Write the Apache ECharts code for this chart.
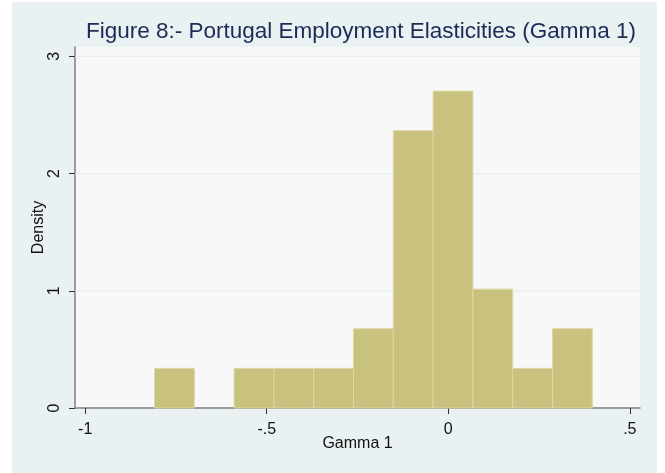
<!DOCTYPE html>
<html><head><meta charset="utf-8">
<script src="https://cdn.jsdelivr.net/npm/echarts@6/dist/echarts.min.js"></script>
<style>
html,body{margin:0;padding:0;background:#fff;}
#wrap{position:relative;width:665px;height:473px;background:#fff;}
#bg{position:absolute;left:12px;top:2px;width:645px;height:471px;background:#e9f1f2;}
#c{position:absolute;left:0;top:0;width:665px;height:473px;}
</style>
</head><body><div id="wrap"><div id="bg"></div><div id="c"></div></div>
<script>
// Histogram: 27 observations, 11 bins
const binStart = -0.809;
const binWidth = 0.1096;
const densities = [0.338, 0, 0.338, 0.338, 0.338, 0.676, 2.366, 2.704, 1.014, 0.338, 0.676];
const xTicks = [-1, -0.5, 0, 0.5];
const xTickLabels = ['-1', '-.5', '0', '.5'];
const yTicks = [0, 1, 2, 3];
const yTickLabels = ['0', '1', '2', '3'];
const titleText = 'Figure 8:- Portugal Employment Elasticities (Gamma 1)';

const binData = densities.map((d, i) => [binStart + i * binWidth, binStart + (i + 1) * binWidth, d]);
const gridData = yTicks.filter(t => t > 0).map(t => [t]);

const chart = echarts.init(document.getElementById('c'), null, {renderer: 'canvas'});
const font = 'Liberation Sans, Arial, sans-serif';
chart.setOption({
  backgroundColor: 'transparent',
  animation: false,
  title: {
    text: titleText, left: 356, top: 15, textAlign: 'center',
    textStyle: {fontFamily: font, fontSize: 22.5, fontWeight: 'normal', color: '#1c2b55'}
  },
  grid: {left: 75, right: 25, top: 47, bottom: 65, show: true, backgroundColor: '#f8f8f8', borderWidth: 0},
  xAxis: {
    type: 'value', min: -1.028, max: 0.528,
    name: 'Gamma 1', nameLocation: 'middle', nameGap: 28, nameMoveOverlap: false,
    nameTextStyle: {fontFamily: font, fontSize: 16, color: '#111'},
    axisLine: {show: true, onZero: false, lineStyle: {color: '#808080', width: 1.5}},
    axisTick: {show: true, customValues: xTicks, length: 6, lineStyle: {color: '#333'}},
    axisLabel: {customValues: xTicks, margin: 14, fontFamily: font, fontSize: 16, color: '#111',
      formatter: v => xTickLabels[xTicks.findIndex(t => Math.abs(t - v) < 1e-9)]},
    splitLine: {show: false}
  },
  yAxis: {
    type: 'value', min: 0, max: 3.08,
    name: 'Density', nameLocation: 'middle', nameGap: 28, nameRotate: 90, nameMoveOverlap: false,
    nameTextStyle: {fontFamily: font, fontSize: 16, color: '#111'},
    axisLine: {show: true, onZero: false, lineStyle: {color: '#808080', width: 1.5}},
    axisTick: {show: true, customValues: yTicks, length: 6, lineStyle: {color: '#333'}},
    axisLabel: {customValues: yTicks, rotate: 90, margin: 12, fontFamily: font, fontSize: 16, color: '#111',
      formatter: v => yTickLabels[yTicks.findIndex(t => Math.abs(t - v) < 1e-9)]},
    splitLine: {show: false}
  },
  series: [
    {
      type: 'custom', z: 1, silent: true,
      renderItem: function (params, api) {
        const cs = params.coordSys;
        const p = api.coord([0, api.value(0)]);
        return {
          type: 'line',
          shape: {x1: cs.x, y1: p[1], x2: cs.x + cs.width, y2: p[1]},
          style: {stroke: '#e6eeef', lineWidth: 1.2}
        };
      },
      encode: {y: 0},
      data: gridData
    },
    {
      type: 'custom', z: 3,
      renderItem: function (params, api) {
        if (!(api.value(2) > 0)) return null;
        const p0 = api.coord([api.value(0), 0]);
        const p1 = api.coord([api.value(1), api.value(2)]);
        return {
          type: 'rect',
          shape: {x: p0[0], y: p1[1], width: p1[0] - p0[0], height: p0[1] - p1[1]},
          style: {fill: '#c9c17e', stroke: '#dcd7a3', lineWidth: 1}
        };
      },
      encode: {x: [0, 1], y: 2},
      data: binData
    }
  ]
});
</script>
</body></html>
